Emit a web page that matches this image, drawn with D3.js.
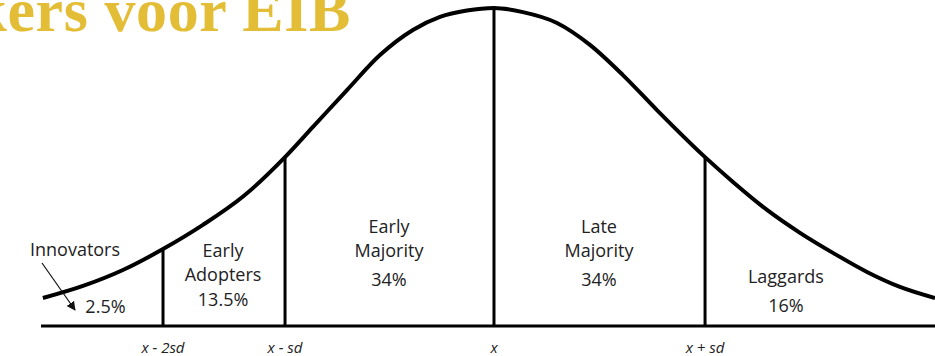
<!DOCTYPE html>
<html>
<head>
<meta charset="utf-8">
<script src="https://cdn.jsdelivr.net/npm/d3@7"></script>
<style>
  html, body { margin: 0; padding: 0; background: #fff; }
  #my_dataviz { width: 935px; height: 356px; overflow: hidden; }
  .lbl { font-family: "Open Sans", Lato, sans-serif; font-size: 18px; fill: #222; }
  .tick-lbl { font-family: "Open Sans", Lato, sans-serif; font-size: 15px; font-style: italic; fill: #222; }
</style>
</head>
<body>
<div id="my_dataviz"></div>
<script>
// curve, x in sd units, y relative to the peak
var curveX = [-2.148, -1.957, -1.767, -1.576, -1.386, -1.195, -0.995, -0.862, -0.7, -0.543, -0.386, -0.257, -0.129, 0,
              0.138, 0.3, 0.457, 0.614, 0.776, 1.005, 1.138, 1.3, 1.457, 1.614, 1.776, 1.933, 2.1]
var curveY = [0.088, 0.126, 0.176, 0.242, 0.318, 0.407, 0.531, 0.626, 0.742, 0.852, 0.931, 0.972, 0.992, 1,
              0.987, 0.953, 0.884, 0.789, 0.679, 0.531, 0.453, 0.365, 0.293, 0.23, 0.17, 0.123, 0.088]

// dividing lines
var markerX = [-1.576, -0.995, 0, 1.005]
var markerTop = [0.242, 0.531, 1, 0.531]
var markerLabels = ["x - 2sd", "x - sd", "x", "x + sd"]

// groups
var groupNames = [["Innovators"], ["Early", "Adopters"], ["Early", "Majority"], ["Late", "Majority"], ["Laggards"]]
var groupShares = ["2.5%", "13.5%", "34%", "34%", "16%"]
var groupX = [-1.85, -1.29, -0.5, 0.5, 1.39]

var title = "kers voor EIB"

// set the dimensions and margins of the graph
var margin = {top: 8, right: 0, bottom: 30, left: 41},
    width = 935 - margin.left - margin.right,
    height = 356 - margin.top - margin.bottom

var svg = d3.select("#my_dataviz")
  .append("svg")
    .attr("width", width + margin.left + margin.right)
    .attr("height", height + margin.top + margin.bottom)
  .append("g")
    .attr("transform", "translate(" + margin.left + "," + margin.top + ")")

var x = d3.scaleLinear()
  .domain([-2.157, 2.1])
  .range([0, width])

var y = d3.scaleLinear()
  .domain([0, 1])
  .range([height, 0])

// title, cut off at the top left
svg.append("text")
    .attr("x", 351 - margin.left)
    .attr("y", 31 - margin.top)
    .attr("text-anchor", "end")
    .style("font-family", "'Liberation Serif', serif")
    .style("font-weight", "bold")
    .style("font-size", "62px")
    .style("letter-spacing", "0.6px")
    .style("fill", "#e3bd36")
    .text(title)

// baseline
svg.append("line")
    .attr("x1", x(-2.157))
    .attr("x2", x(2.1))
    .attr("y1", y(0))
    .attr("y2", y(0))
    .attr("stroke", "#000")
    .attr("stroke-width", 3)

// vertical lines
svg.selectAll("line.marker")
  .data(markerX)
  .enter()
  .append("line")
    .attr("class", "marker")
    .attr("x1", function(d) { return x(d) })
    .attr("x2", function(d) { return x(d) })
    .attr("y1", y(0))
    .attr("y2", function(d, i) { return y(markerTop[i]) })
    .attr("stroke", "#000")
    .attr("stroke-width", 3)

// the bell curve
var line = d3.line()
  .x(function(d) { return x(d[0]) })
  .y(function(d) { return y(d[1]) })
  .curve(d3.curveMonotoneX)

svg.append("path")
    .datum(d3.zip(curveX, curveY))
    .attr("d", line)
    .attr("fill", "none")
    .attr("stroke", "#000")
    .attr("stroke-width", 4)

// tick labels under the baseline
svg.selectAll("text.tick-lbl")
  .data(markerLabels)
  .enter()
  .append("text")
    .attr("class", "tick-lbl")
    .attr("text-anchor", "middle")
    .attr("x", function(d, i) { return x(markerX[i]) })
    .attr("y", y(0) + 27)
    .text(function(d) { return d })

// group labels, baselines in px
var nameY = [[256], [257, 281], [233, 257], [233, 257], [283]]
var shareY = [313, 306, 286, 286, 312]

groupNames.forEach(function(names, i) {
  var cx = x(groupX[i])
  if (i == 0) cx = 75 - margin.left
  names.forEach(function(n, j) {
    svg.append("text")
      .attr("class", "lbl")
      .attr("text-anchor", "middle")
      .attr("x", cx)
      .attr("y", nameY[i][j] - margin.top)
      .text(n)
  })
  svg.append("text")
    .attr("class", "lbl")
    .attr("text-anchor", "middle")
    .attr("x", x(groupX[i]))
    .attr("y", shareY[i] - margin.top)
    .text(groupShares[i])
})

// arrow from Innovators to its share
svg.append("defs").append("marker")
    .attr("id", "arrow")
    .attr("viewBox", "0 0 10 10")
    .attr("refX", 9)
    .attr("refY", 5)
    .attr("markerWidth", 9)
    .attr("markerHeight", 9)
    .attr("markerUnits", "userSpaceOnUse")
    .attr("orient", "auto")
  .append("path")
    .attr("d", "M0,0 L10,5 L0,10 z")
    .attr("fill", "#111")

svg.append("line")
    .attr("x1", 42 - margin.left)
    .attr("y1", 263 - margin.top)
    .attr("x2", 75 - margin.left)
    .attr("y2", 310 - margin.top)
    .attr("stroke", "#111")
    .attr("stroke-width", 1.2)
    .attr("marker-end", "url(#arrow)")
</script>
</body>
</html>
